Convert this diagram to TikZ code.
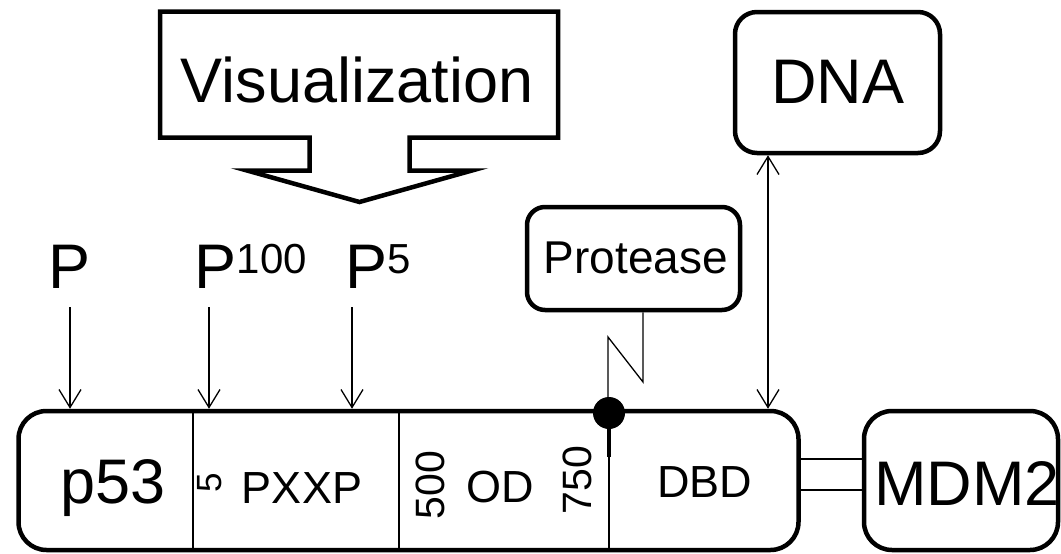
\documentclass[tikz,border=0pt]{standalone}
\usepackage{fontspec}
\setmainfont{Liberation Sans}
\usetikzlibrary{
    arrows.meta,
    positioning
}
\newcommand{\supnum}[1]{\raisebox{15pt}{\fontsize{42}{42}\selectfont #1}}

\begin{document}
\begin{tikzpicture}[
    x=1pt, y=-1pt,
    >={Straight Barb[length=18pt,width=22pt]},
    box/.style={
        draw,
        line width=4.5pt,
        rounded corners=#1,
        inner sep=0pt
    },
    box/.default=28pt,
    thinline/.style={line width=1.3pt},
    big/.style={font=\fontsize{63}{63}\selectfont},
    mid/.style={font=\fontsize{45}{45}\selectfont},
    small/.style={font=\fontsize{41}{41}\selectfont}
]
\useasboundingbox (0,0) rectangle (1061,554);

% boxes
\node[box, minimum width=780pt, minimum height=139pt] (chain) at (408.5,480.5) {};
\node[box, minimum width=194pt, minimum height=139pt] (mdm2) at (961,480.5) {};
\node[box=22pt, minimum width=205pt, minimum height=141pt] (dna) at (837.5,82.5) {};
\node[box=18pt, minimum width=213pt, minimum height=103pt] (protease) at (633.5,258.5) {};

% visualization callout
\draw[line width=4.5pt]
(160,11.5) -- (558,11.5) -- (558,137.5) -- (409.5,137.5) -- (409.5,170.5)
-- (472,170.5) -- (359.5,202) -- (247,170.5) -- (309.5,170.5)
-- (309.5,137.5) -- (160,137.5) -- cycle;
\node[big, anchor=base] (vis) at (357,102) {Visualization};

% texts
\node[big, anchor=base] (p53) at (113,503) {p53};
\node[font=\fontsize{35}{35}\selectfont, rotate=90] (n5) at (210,483) {5};
\node[mid, anchor=base] (pxxp) at (302,503) {PXXP};
\node[small, rotate=90] (n500) at (430,485) {500};
\node[mid, anchor=base] (od) at (500,502) {OD};
\node[small, rotate=90] (n750) at (577,480) {750};
\node[mid, anchor=base] (dbd) at (704.5,497) {DBD};
\node[big, anchor=base] (mdmtext) at (967,505) {MDM2};
\node[big, anchor=base] (dnatext) at (838,103) {DNA};
\node[font=\fontsize{46}{46}\selectfont, anchor=base] (prottext) at (636,273) {Protease};

\node[big, anchor=base] (pa) at (70,288) {P};
\node[big, anchor=base] (pb) at (251,288) {P\supnum{100}};
\node[big, anchor=base] (pc) at (378,288) {P\supnum{5}};

% domain borders
\coordinate (d1) at (193,411);
\coordinate (d2) at (399,411);
\coordinate (cut) at (609,413);
\draw[thinline] (d1) -- (d1 |- chain.south);
\draw[thinline] (d2) -- (d2 |- chain.south);
\draw[thinline] (cut) -- (cut |- chain.south);
\draw[line width=4.5pt] (cut) -- ++(0,44);

% phosphorylation sites
\coordinate (ta) at (70,307);
\coordinate (tb) at (209,307);
\coordinate (tc) at (352,307);
\draw[thinline, ->] (ta) -- (ta |- chain.north);
\draw[thinline, ->] (tb) -- (tb |- chain.north);
\draw[thinline, ->] (tc) -- (tc |- chain.north);

% protease cut
\coordinate (z1) at (643,382);
\coordinate (z2) at (608,337);
\draw[thinline] (z1 |- protease.south) -- (z1) -- (z2) -- (z2 |- cut);
\fill (cut) circle (16pt);

% DNA binding
\coordinate (dx) at (768,300);
\draw[thinline, <->] (dx |- dna.south) -- (dx |- chain.north);

% MDM2 binding
\coordinate (l1) at (830,459);
\coordinate (l2) at (830,490);
\draw[thinline] (l1 -| chain.east) -- (l1 -| mdm2.west);
\draw[thinline] (l2 -| chain.east) -- (l2 -| mdm2.west);

\end{tikzpicture}
\end{document}
